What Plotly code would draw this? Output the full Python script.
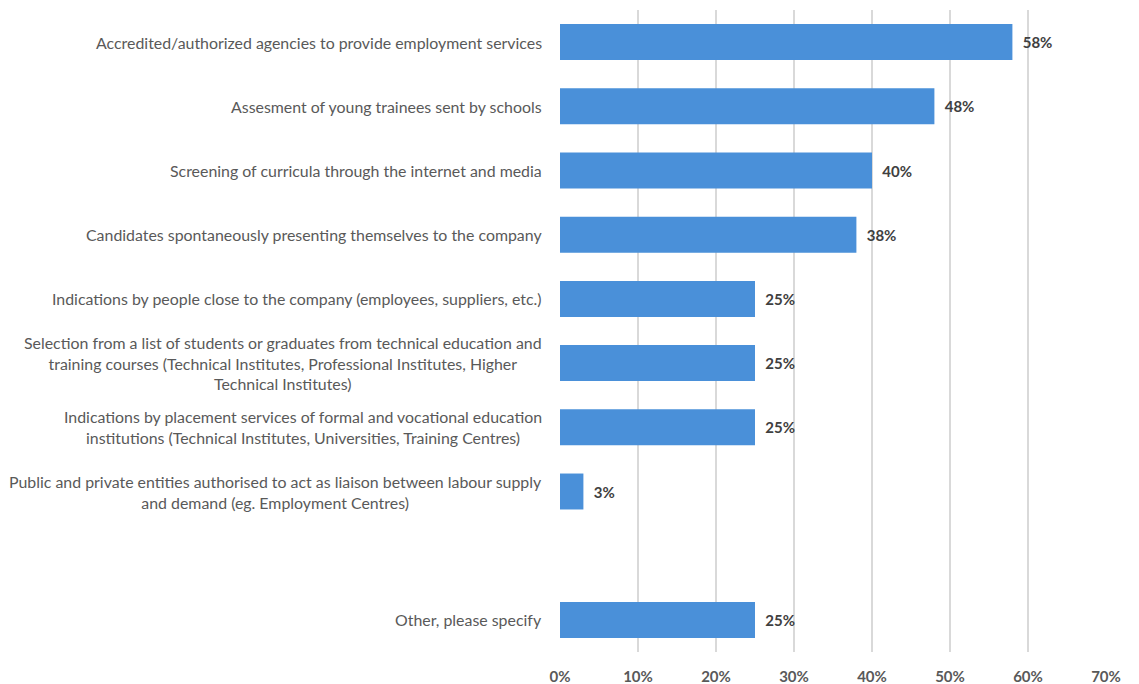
import plotly.graph_objects as go

# Recruitment channels (top to bottom); the blank entry leaves an empty slot
categories = [
    "Accredited/authorized agencies to provide employment services",
    "Assesment of young trainees sent by schools",
    "Screening of curricula through the internet and media",
    "Candidates spontaneously presenting themselves to the company",
    "Indications by people close to the company (employees, suppliers, etc.)",
    "Selection from a list of students or graduates from technical education and<br>training courses (Technical Institutes, Professional Institutes, Higher<br>Technical Institutes)",
    "Indications by placement services of formal and vocational education<br>institutions (Technical Institutes, Universities, Training Centres)",
    "Public and private entities authorised to act as liaison between labour supply<br>and demand (eg. Employment Centres)",
    " ",
    "Other, please specify",
]
shares = [58, 48, 40, 38, 25, 25, 25, 3, None, 25]

x_ticks = [0, 10, 20, 30, 40, 50, 60, 70]
x_tick_labels = [f"{v}%" for v in x_ticks]

FONT = "Lato"
TEXT_GREY = "#595959"
BAR_BLUE = "#4A90D9"

labels = [("\u00a0\u00a0" + f"{v}%") if v is not None else "" for v in shares]

fig = go.Figure(
    go.Bar(
        x=shares,
        y=categories,
        orientation="h",
        marker=dict(color=BAR_BLUE, line=dict(width=0)),
        text=labels,
        textposition="outside",
        textfont=dict(family=FONT, size=15, color="#404040", weight="bold"),
        cliponaxis=False,
        hoverinfo="skip",
    )
)

# Category labels, centred line by line and right-aligned against the axis
for cat in categories:
    if cat.strip():
        fig.add_annotation(
            x=-0.029, xref="paper", y=cat, yref="y",
            text=cat, showarrow=False,
            xanchor="right", yanchor="middle", align="center",
            font=dict(family=FONT, size=15.9, color=TEXT_GREY),
        )

fig.update_layout(
    width=1139, height=684,
    margin=dict(l=560, r=33, t=10, b=32, autoexpand=False),
    paper_bgcolor="white", plot_bgcolor="white",
    bargap=0.44,
    showlegend=False,
    font=dict(family=FONT, color=TEXT_GREY),
)
fig.update_xaxes(
    range=[0, 70],
    tickvals=x_ticks, ticktext=x_tick_labels,
    tickfont=dict(family=FONT, size=15, color=TEXT_GREY, weight="bold"),
    showgrid=True, gridcolor="#D9D9D9", gridwidth=1.5,
    zeroline=False, showline=False, ticks="", ticklabelstandoff=14,
    automargin=False,
    fixedrange=True,
)
fig.update_yaxes(
    categoryorder="array", categoryarray=categories,
    autorange="reversed",
    showticklabels=False, showgrid=False, zeroline=False,
    showline=False, ticks="",
    automargin=False,
    fixedrange=True,
)

fig.write_html("out.html")
